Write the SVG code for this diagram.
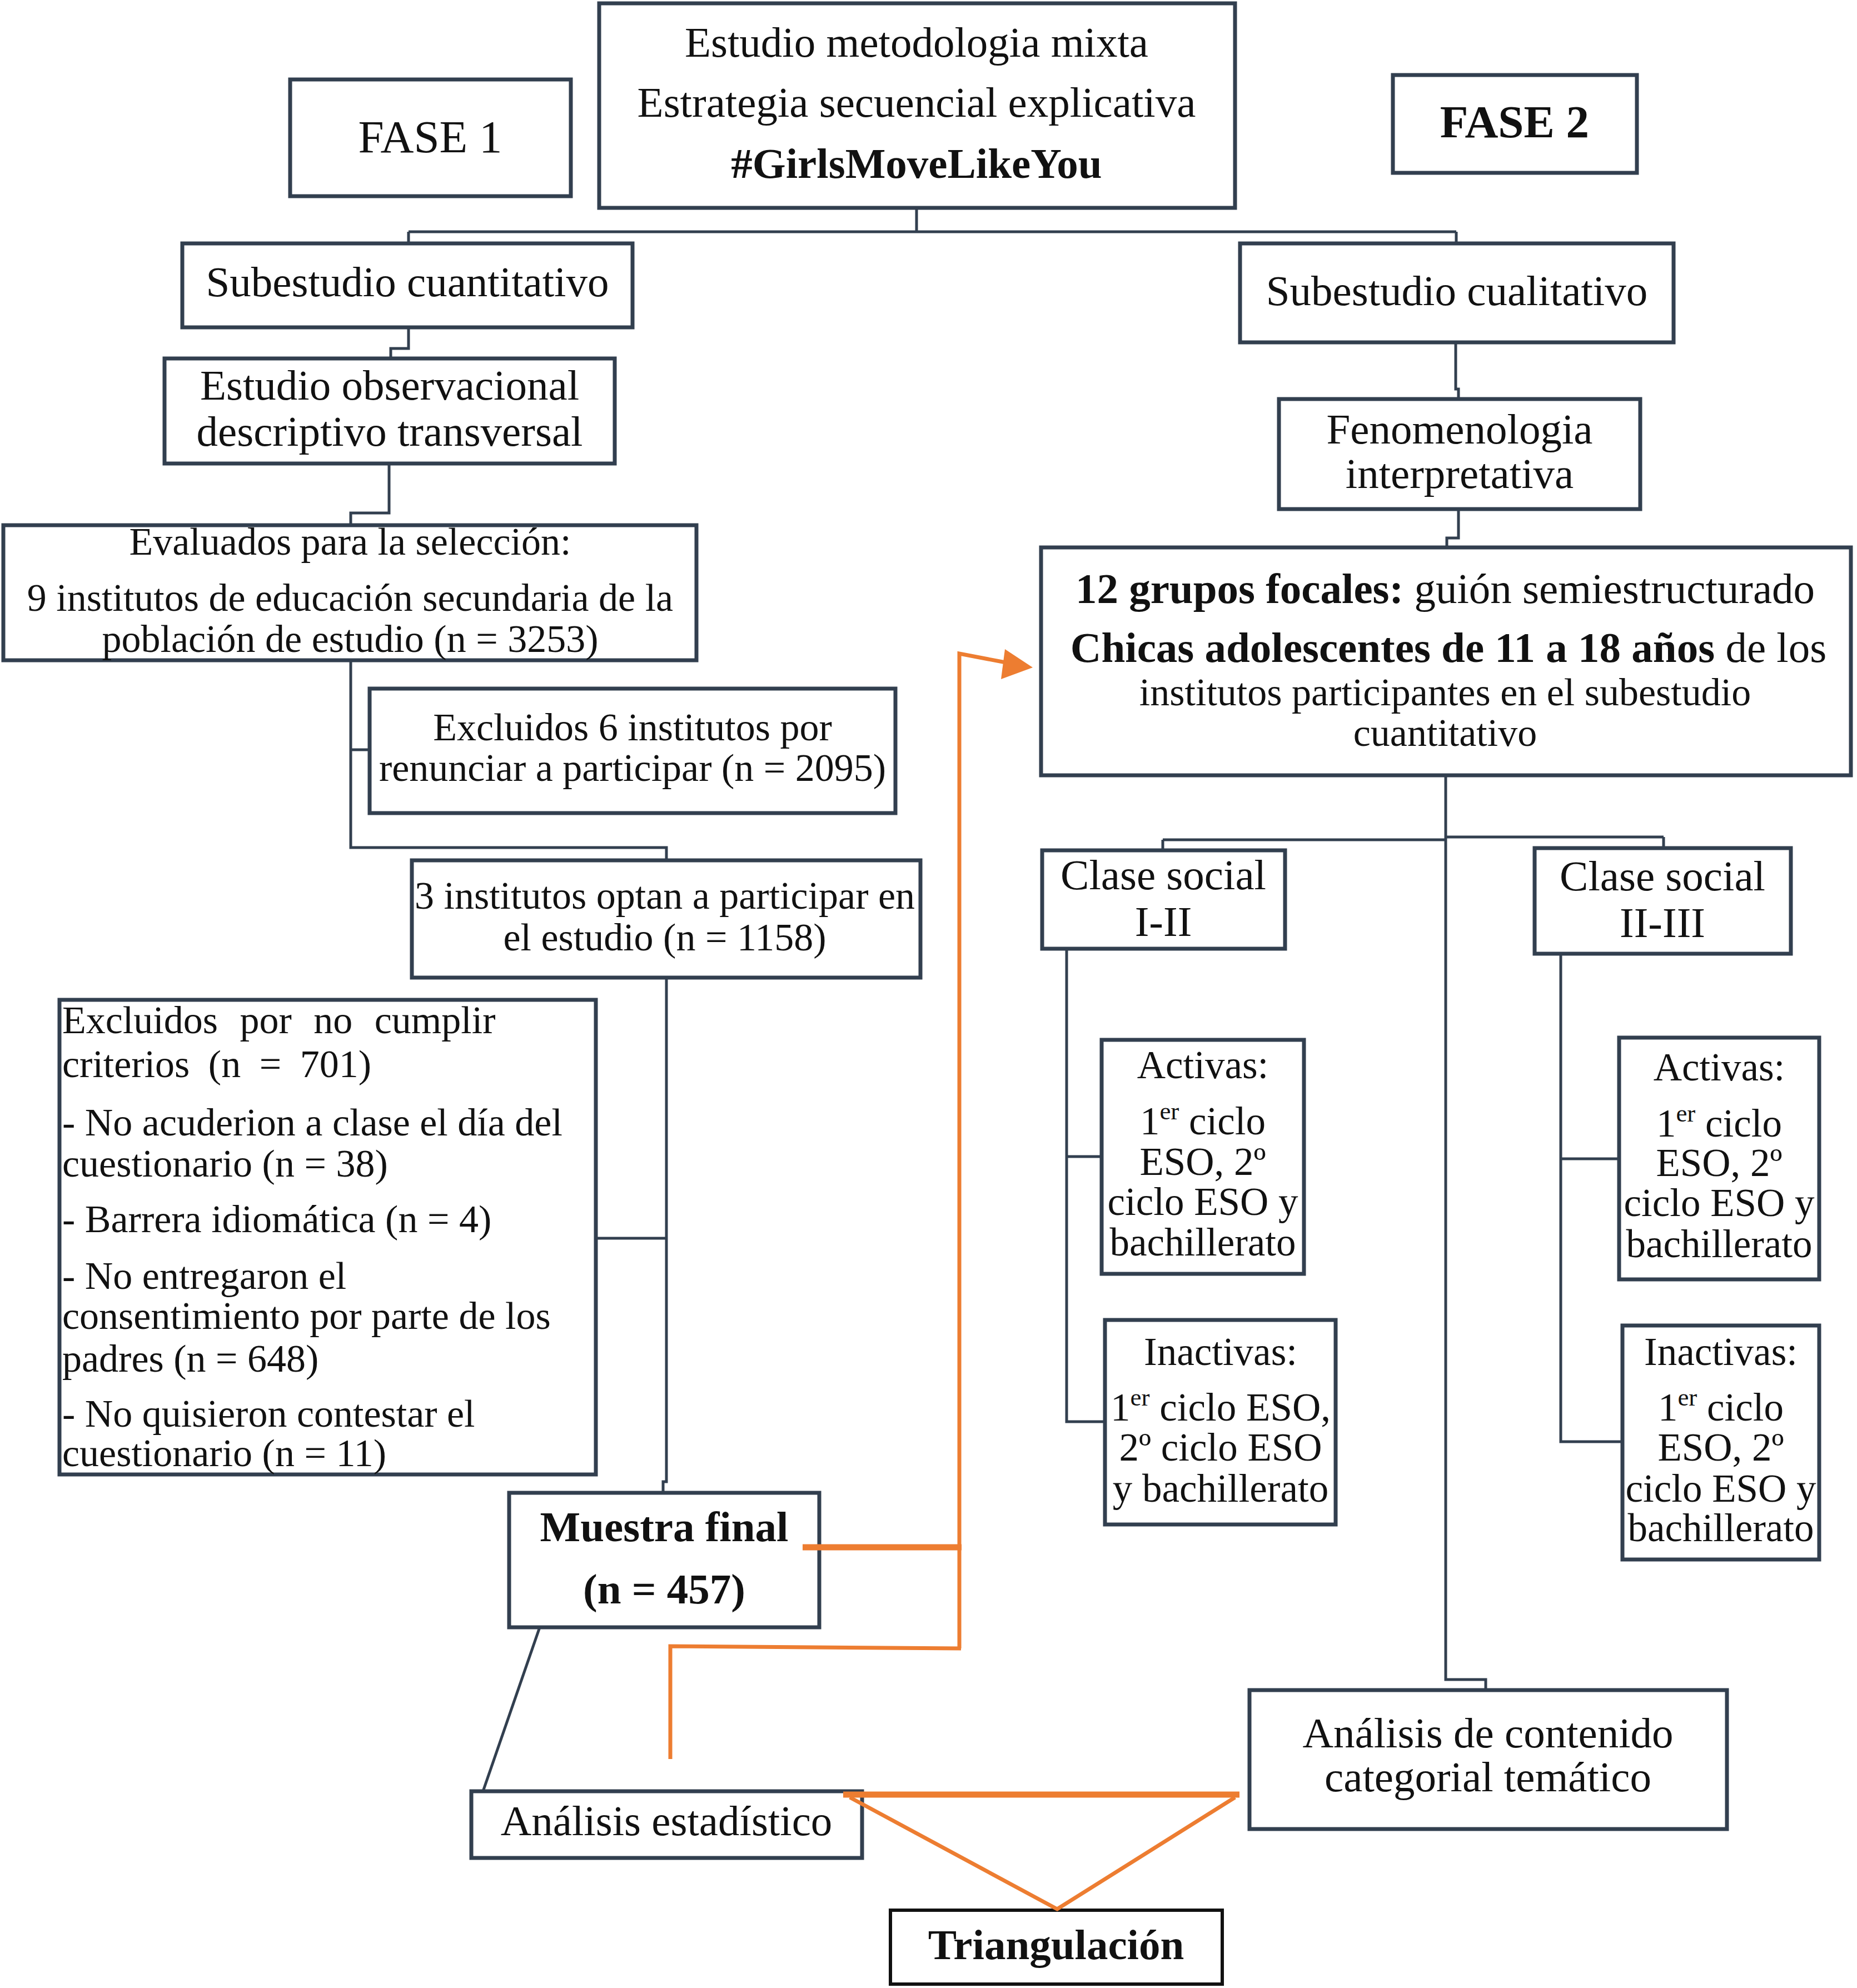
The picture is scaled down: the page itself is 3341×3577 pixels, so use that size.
<svg xmlns="http://www.w3.org/2000/svg" width="3341" height="3577" viewBox="0 0 3341 3577">
<style>
.bx{fill:#fff;stroke:#323f4f;stroke-width:7}
.bk{fill:#fff;stroke:#111;stroke-width:6}
.t{font-family:"Liberation Serif","Times New Roman",serif;font-size:77px;fill:#111;text-anchor:middle}
.s{font-family:"Liberation Serif","Times New Roman",serif;font-size:70px;fill:#111;text-anchor:middle}
.m{font-size:71px}
.f{font-size:83px}
.l{text-anchor:start}
.b{font-weight:bold}
.c{fill:none;stroke:#323f4f;stroke-width:5}
.o{fill:none;stroke:#ed7d31;stroke-width:7}
.ot{fill:none;stroke:#ed7d31;stroke-width:11}
</style>
<rect width="3341" height="3577" fill="#fff"/>
<g id="n-top"><rect class="bx" x="1078" y="6" width="1144" height="368"/>
<text class="t" x="1649" y="102">Estudio metodologia mixta</text>
<text class="t" x="1649" y="210">Estrategia secuencial explicativa</text>
<text class="t b" x="1649" y="320">#GirlsMoveLikeYou</text></g>
<g id="n-fase1"><rect class="bx" x="522" y="143" width="505" height="210"/>
<text class="t f" x="774" y="274">FASE 1</text></g>
<g id="n-fase2"><rect class="bx" x="2506" y="135" width="439" height="176"/>
<text class="t b f" x="2725" y="247">FASE 2</text></g>
<g id="n-cuanti"><rect class="bx" x="328" y="438" width="810" height="151"/>
<text class="t" x="733" y="533">Subestudio cuantitativo</text></g>
<g id="n-cuali"><rect class="bx" x="2231" y="438" width="780" height="178"/>
<text class="t" x="2621" y="549">Subestudio cualitativo</text></g>
<g id="n-obs"><rect class="bx" x="296" y="645" width="810" height="189"/>
<text class="t" x="701" y="719">Estudio observacional</text>
<text class="t" x="701" y="802">descriptivo transversal</text></g>
<g id="n-feno"><rect class="bx" x="2301" y="718" width="650" height="198"/>
<text class="t" x="2626" y="798">Fenomenologia</text>
<text class="t" x="2626" y="878">interpretativa</text></g>
<g id="n-eval"><rect class="bx" x="6" y="945" width="1247" height="243"/>
<text class="s" x="630" y="998">Evaluados para la selección:</text>
<text class="s" x="630" y="1099">9 institutos de educación secundaria de la</text>
<text class="s" x="630" y="1173">población de estudio (n = 3253)</text></g>
<g id="n-excl6"><rect class="bx" x="665" y="1239" width="946" height="224"/>
<text class="s" x="1138" y="1332">Excluidos 6 institutos por</text>
<text class="s" x="1138" y="1405">renunciar a participar (n = 2095)</text></g>
<g id="n-3inst"><rect class="bx" x="741" y="1548" width="915" height="211"/>
<text class="s" x="1196" y="1635">3 institutos optan a participar en</text>
<text class="s" x="1196" y="1710">el estudio (n = 1158)</text></g>
<g id="n-exclcrit"><rect class="bx" x="107" y="1799" width="965" height="854"/>
<text class="s l" x="112" y="1859" word-spacing="22">Excluidos por no cumplir</text>
<text class="s l" x="112" y="1938" word-spacing="16">criterios (n = 701)</text>
<text class="s l" x="112" y="2043">- No acuderion a clase el día del</text>
<text class="s l" x="112" y="2117">cuestionario (n = 38)</text>
<text class="s l" x="112" y="2217">- Barrera idiomática (n = 4)</text>
<text class="s l" x="112" y="2319">- No entregaron el</text>
<text class="s l" x="112" y="2391">consentimiento por parte de los</text>
<text class="s l" x="112" y="2468">padres (n = 648)</text>
<text class="s l" x="112" y="2567">- No quisieron contestar el</text>
<text class="s l" x="112" y="2638">cuestionario (n = 11)</text></g>
<g id="n-muestra"><rect class="bx" x="916" y="2686" width="558" height="242"/>
<text class="t b" x="1195" y="2773">Muestra final</text>
<text class="t b" x="1195" y="2885">(n = 457)</text></g>
<g id="n-estad"><rect class="bx" x="848" y="3223" width="703" height="120"/>
<text class="t" x="1199" y="3302">Análisis estadístico</text></g>
<g id="n-grupos"><rect class="bx" x="1873" y="985" width="1457" height="410"/>
<text class="t" x="2600" y="1085"><tspan class="b">12 grupos focales:</tspan> guión semiestructurado</text>
<text class="t" x="2606" y="1191"><tspan class="b">Chicas adolescentes de 11 a 18 años</tspan> de los</text>
<text class="s" x="2600" y="1269">institutos participantes en el subestudio</text>
<text class="s" x="2600" y="1342">cuantitativo</text></g>
<g id="n-clase1"><rect class="bx" x="1875" y="1530" width="437" height="177"/>
<text class="t" x="2093" y="1600">Clase social</text>
<text class="t" x="2093" y="1684">I-II</text></g>
<g id="n-clase2"><rect class="bx" x="2761" y="1526" width="461" height="190"/>
<text class="t" x="2991" y="1602">Clase social</text>
<text class="t" x="2991" y="1686">II-III</text></g>
<g id="n-act1"><rect class="bx" x="1982" y="1871" width="364" height="421"/>
<text class="s m" x="2164" y="1940">Activas:</text>
<text class="s m" x="2164" y="2041">1<tspan font-size="45" dy="-27">er</tspan><tspan dy="27"> ciclo</tspan></text>
<text class="s m" x="2164" y="2114">ESO, 2º</text>
<text class="s m" x="2164" y="2186">ciclo ESO y</text>
<text class="s m" x="2164" y="2259">bachillerato</text></g>
<g id="n-inact1"><rect class="bx" x="1988" y="2375" width="415" height="368"/>
<text class="s m" x="2196" y="2456">Inactivas:</text>
<text class="s m" x="2196" y="2556">1<tspan font-size="45" dy="-27">er</tspan><tspan dy="27"> ciclo ESO,</tspan></text>
<text class="s m" x="2196" y="2628">2º ciclo ESO</text>
<text class="s m" x="2196" y="2702">y bachillerato</text></g>
<g id="n-act2"><rect class="bx" x="2913" y="1867" width="360" height="435"/>
<text class="s m" x="3093" y="1944">Activas:</text>
<text class="s m" x="3093" y="2045">1<tspan font-size="45" dy="-27">er</tspan><tspan dy="27"> ciclo</tspan></text>
<text class="s m" x="3093" y="2116">ESO, 2º</text>
<text class="s m" x="3093" y="2188">ciclo ESO y</text>
<text class="s m" x="3093" y="2262">bachillerato</text></g>
<g id="n-inact2"><rect class="bx" x="2919" y="2385" width="354" height="421"/>
<text class="s m" x="3096" y="2456">Inactivas:</text>
<text class="s m" x="3096" y="2556">1<tspan font-size="45" dy="-27">er</tspan><tspan dy="27"> ciclo</tspan></text>
<text class="s m" x="3096" y="2628">ESO, 2º</text>
<text class="s m" x="3096" y="2702">ciclo ESO y</text>
<text class="s m" x="3096" y="2773">bachillerato</text></g>
<g id="n-contenido"><rect class="bx" x="2248" y="3041" width="859" height="250"/>
<text class="t" x="2677" y="3144">Análisis de contenido</text>
<text class="t" x="2677" y="3223">categorial temático</text></g>
<g id="n-triang"><rect class="bk" x="1602" y="3437" width="597" height="133"/>
<text class="t b" x="1900" y="3525" font-size="72">Triangulación</text></g>
<g id="connectors">
<path class="c" d="M1649 374V417M735 417H2620M735 417V438M2620 417V438"/>
<path class="c" d="M735 589V627H703V645"/>
<path class="c" d="M700 834V923H631V945"/>
<path class="c" d="M631 1188V1525H1199V1548M631 1349H665"/>
<path class="c" d="M1199 1759V2666H1193V2686M1072 2228H1199"/>
<path class="c" d="M971 2928L869 3223"/>
<path class="c" d="M2619 616V700H2624V718"/>
<path class="c" d="M2624 916V968H2603V985"/>
<path class="c" d="M2601 1395V3022H2673V3041M2092 1511H2601M2601 1506H2993M2092 1511V1530M2993 1506V1526"/>
<path class="c" d="M1919 1707V2558H1988M1919 2081H1982"/>
<path class="c" d="M2808 1716V2594H2919M2808 2085H2913"/>
<path class="ot" d="M1444 2784H1730"/>
<path class="o" d="M1726 2966V1176L1820 1194"/>
<polygon points="1858,1201 1808,1168 1801,1222" fill="#ed7d31"/>
<path class="o" d="M1206 3165V2962L1729 2966"/>
<path class="ot" d="M1517 3229H2230"/>
<path class="o" d="M1529 3234L1902 3435L2222 3234"/>
</g>
</svg>
